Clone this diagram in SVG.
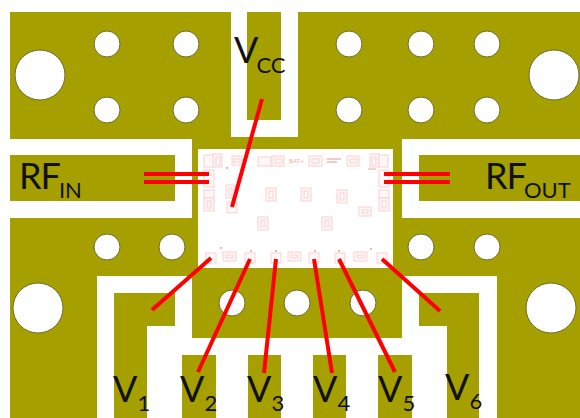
<svg xmlns="http://www.w3.org/2000/svg" width="580" height="418" viewBox="0 0 580 418">
<defs><style>
.c{fill:#a5a000}.w{fill:#fff}
.h{fill:#fff;stroke:#6f6c2a;stroke-width:1}
.p{fill:#fff8f8;stroke:#fbd0d0;stroke-width:1}
.d{fill:#f9b0b0}
.r{stroke:#f00;stroke-width:4;fill:none}
.t{font-family:Lato,"Liberation Sans",sans-serif;fill:#111;font-size:36px}
.s{font-size:22px}
.m{font-family:"Liberation Sans",sans-serif;font-size:6px;fill:#f8a8a8}
</style></defs>
<rect width="580" height="418" fill="#fff"/>
<g id="board">
<rect class="c" x="10" y="12" width="570" height="406"/>
<rect class="w" x="231" y="12" width="67" height="125"/>
<rect class="c" x="247" y="12" width="34" height="108"/>
<rect class="w" x="10" y="139" width="182" height="79"/>
<rect class="c" x="10" y="155" width="165" height="46"/>
<rect class="w" x="402" y="139" width="178" height="79"/>
<rect class="c" x="419" y="155" width="161" height="46"/>
<rect class="w" x="97" y="276" width="400" height="142"/>
<rect class="c" x="192" y="268" width="210" height="70"/>
<path class="c" d="M114 293H175V326H147V418H114Z"/>
<path class="c" d="M419 293H479V418H447V326H419Z"/>
<rect class="c" x="182" y="355" width="34" height="63"/>
<rect class="c" x="248" y="355" width="33" height="63"/>
<rect class="c" x="313" y="355" width="33" height="63"/>
<rect class="c" x="378" y="355" width="34" height="63"/>
</g>
<g id="holes">
<circle class="h" cx="40" cy="75" r="25"/><circle class="h" cx="554" cy="75" r="25"/>
<circle class="h" cx="38" cy="308" r="25"/><circle class="h" cx="551" cy="308" r="25"/>
<circle class="h" cx="107" cy="44" r="13"/><circle class="h" cx="186" cy="44" r="13"/>
<circle class="h" cx="107" cy="110" r="13"/><circle class="h" cx="186" cy="110" r="13"/>
<circle class="h" cx="349" cy="44" r="13"/><circle class="h" cx="421" cy="44" r="13"/><circle class="h" cx="487" cy="44" r="13"/>
<circle class="h" cx="349" cy="110" r="13"/><circle class="h" cx="421" cy="110" r="13"/><circle class="h" cx="487" cy="110" r="13"/>
<circle class="h" cx="107" cy="247" r="13"/><circle class="h" cx="172" cy="247" r="13"/>
<circle class="h" cx="421" cy="247" r="13"/><circle class="h" cx="487" cy="247" r="13"/>
<circle class="h" cx="232" cy="303" r="13"/><circle class="h" cx="297" cy="303" r="13"/><circle class="h" cx="363" cy="303" r="13"/>
</g>
<g id="chip">
<rect class="w" x="198" y="149" width="195" height="119"/>
<g>
<rect class="p" x="204" y="155" width="10" height="12"/><rect class="p" x="213" y="154" width="9" height="13"/><rect class="p" x="216" y="157" width="4" height="8"/>
<rect class="p" x="232" y="156" width="10" height="9"/><rect class="p" x="234" y="159" width="6" height="3"/>
<rect class="p" x="258" y="157" width="13" height="9"/><rect class="p" x="272" y="156" width="12" height="10"/><rect class="p" x="275" y="159" width="7" height="4"/>
<rect class="p" x="309" y="156" width="13" height="10"/><rect class="p" x="312" y="159" width="7" height="4"/>
<rect class="p" x="347" y="156" width="12" height="10"/><rect class="p" x="350" y="159" width="7" height="4"/>
<rect class="p" x="370" y="154" width="9" height="13"/><rect class="p" x="372" y="157" width="4" height="8"/><rect class="p" x="379" y="155" width="9" height="12"/>
<rect class="p" x="204" y="170" width="10" height="17"/><rect class="p" x="204" y="190" width="10" height="8"/><rect class="p" x="204" y="198" width="10" height="13"/><rect class="p" x="207" y="201" width="4" height="7"/>
<rect class="p" x="379" y="170" width="10" height="17"/><rect class="p" x="379" y="190" width="10" height="8"/><rect class="p" x="379" y="198" width="10" height="13"/><rect class="p" x="382" y="201" width="4" height="7"/>
<rect class="p" x="226" y="185" width="9" height="13"/><rect class="p" x="229" y="188" width="3" height="7"/>
<rect class="p" x="227" y="202" width="10" height="11"/>
<rect class="p" x="266" y="188" width="10" height="13"/><rect class="p" x="269" y="191" width="4" height="7"/>
<rect class="p" x="301" y="188" width="10" height="13"/><rect class="p" x="304" y="191" width="4" height="7"/>
<rect class="p" x="337" y="190" width="10" height="13"/><rect class="p" x="340" y="193" width="4" height="7"/>
<rect class="p" x="359" y="207" width="12" height="9"/><rect class="p" x="362" y="210" width="6" height="3"/>
<rect class="p" x="258" y="217" width="10" height="13"/><rect class="p" x="261" y="220" width="4" height="7"/>
<rect class="p" x="322" y="217" width="10" height="13"/><rect class="p" x="325" y="220" width="4" height="7"/>
<rect class="p" x="206" y="253" width="10" height="10"/>
<rect class="p" x="223" y="252" width="13" height="9"/><rect class="p" x="226" y="255" width="7" height="3"/>
<rect class="p" x="245" y="253" width="10" height="10"/><rect class="p" x="271" y="253" width="10" height="10"/>
<rect class="p" x="288" y="252" width="13" height="9"/><rect class="p" x="291" y="255" width="7" height="3"/>
<rect class="p" x="309" y="253" width="10" height="10"/><rect class="p" x="335" y="253" width="10" height="10"/>
<rect class="p" x="354" y="252" width="13" height="9"/><rect class="p" x="357" y="255" width="7" height="3"/>
<rect class="p" x="377" y="253" width="10" height="10"/>
<rect class="d" x="226" y="167" width="2" height="2"/><rect class="d" x="220" y="247" width="2" height="2"/><rect class="d" x="250" y="250" width="2" height="2"/><rect class="d" x="275" y="250" width="2" height="2"/><rect class="d" x="314" y="250" width="2" height="2"/><rect class="d" x="338" y="250" width="2" height="2"/><rect class="d" x="370" y="248" width="2" height="2"/>
<rect class="d" x="327" y="158" width="14" height="2" opacity=".7"/><rect class="d" x="327" y="161" width="10" height="2" opacity=".7"/><rect class="d" x="368" y="168" width="8" height="2" opacity=".6"/>
<text class="m" x="289" y="163">BAT+</text>
</g>
</g>
<g id="connectors">
<path class="r" d="M262 99L232 207"/>
<path class="r" d="M144 174H209M144 182H209"/>
<path class="r" d="M384 174H450M384 182H450"/>
<path class="r" d="M152 310L211 258"/>
<path class="r" d="M198 372L250 259"/>
<path class="r" d="M264 373L276 259"/>
<path class="r" d="M332 373L314 259"/>
<path class="r" d="M395 372L339 259"/>
<path class="r" d="M440 311L382 259"/>
</g>
<g id="labels">
<text class="t" x="234" y="63">V<tspan class="s" dx="-2" dy="10">CC</tspan></text>
<text class="t" x="19" y="189" letter-spacing="-1">RF<tspan class="s" dx="-1" dy="9" letter-spacing="0">IN</tspan></text>
<text class="t" x="485" y="189" letter-spacing="-1">RF<tspan class="s" dx="-2" dy="9" letter-spacing="0">OUT</tspan></text>
<text class="t" x="113" y="402">V<tspan class="s" dy="9">1</tspan></text>
<text class="t" x="180" y="402">V<tspan class="s" dy="9">2</tspan></text>
<text class="t" x="247" y="402">V<tspan class="s" dy="9">3</tspan></text>
<text class="t" x="313" y="402">V<tspan class="s" dy="9">4</tspan></text>
<text class="t" x="378" y="402">V<tspan class="s" dy="9">5</tspan></text>
<text class="t" x="445" y="400">V<tspan class="s" dy="9">6</tspan></text>
</g>
</svg>
